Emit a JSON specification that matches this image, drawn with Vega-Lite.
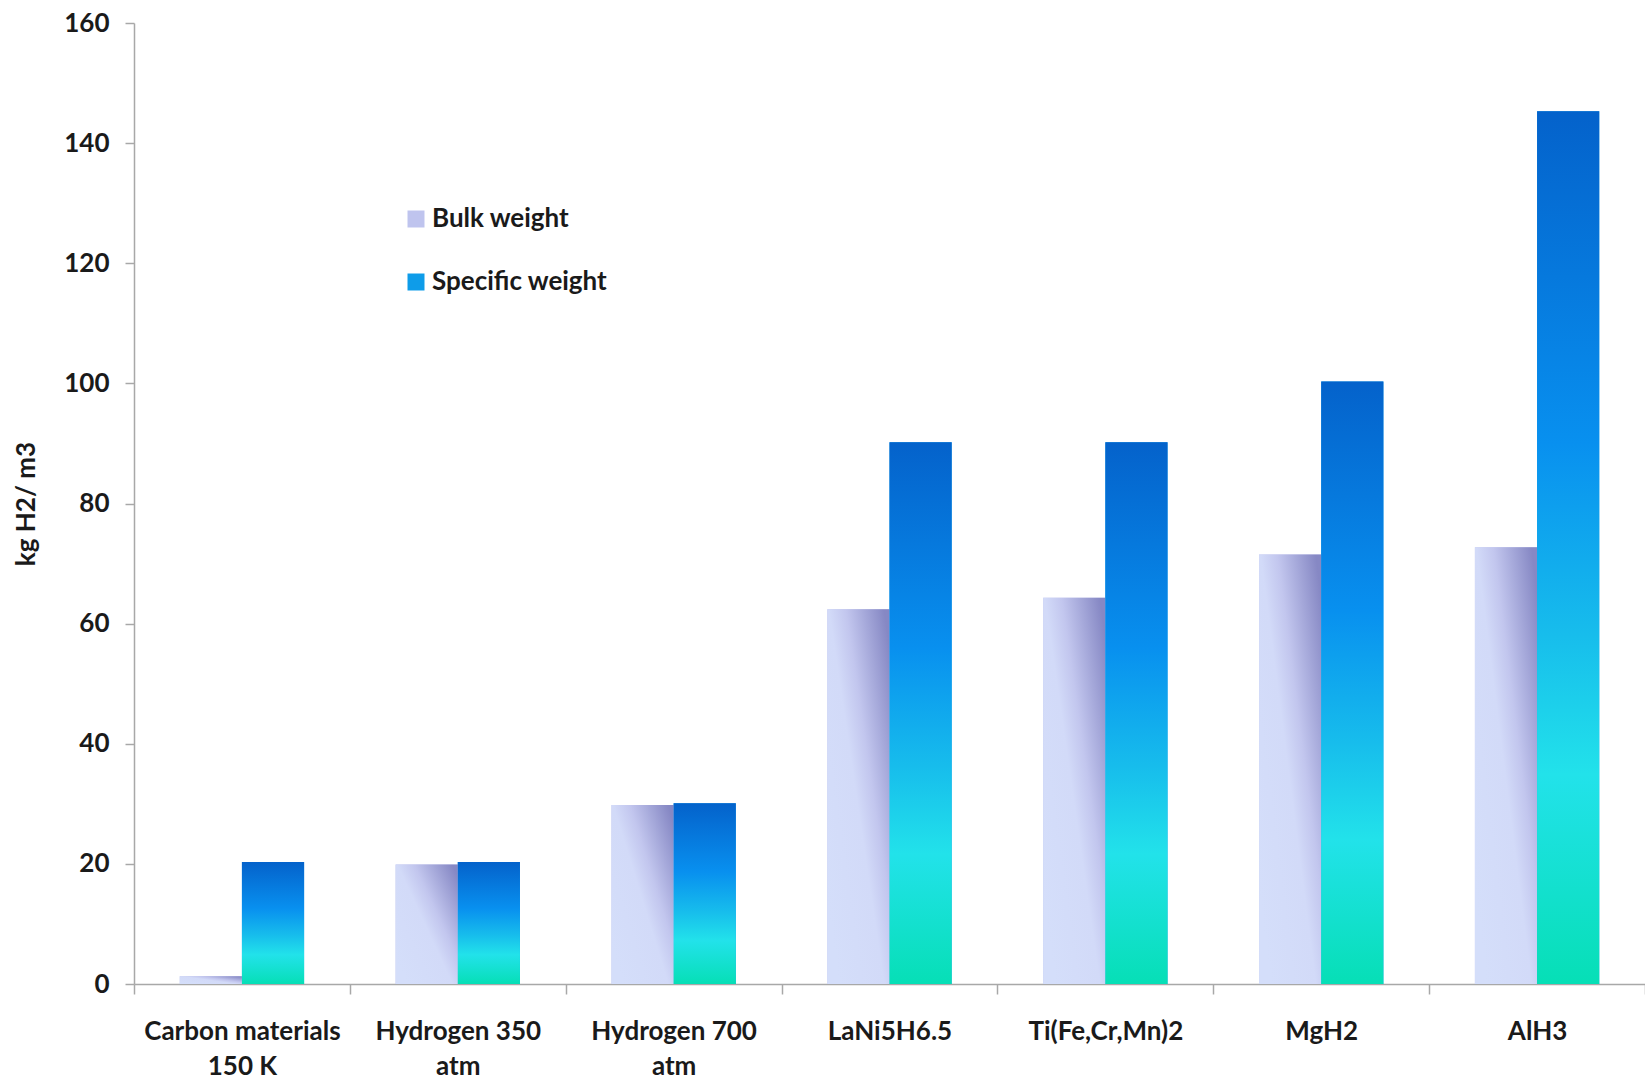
{
  "$schema": "https://vega.github.io/schema/vega-lite/v6.json",
  "width": 1511,
  "height": 961,
  "autosize": {"type": "none"},
  "padding": {"left": 134, "top": 23, "right": 0, "bottom": 97},
  "background": "white",
  "config": {
    "view": {"stroke": null},
    "font": "Lato",
    "axis": {"grid": false}
  },
  "data": {
    "values": [
      {"material": "Carbon materials 150 K", "series": "Bulk weight", "value": 1.3},
      {"material": "Carbon materials 150 K", "series": "Specific weight", "value": 20.3},
      {"material": "Hydrogen 350 atm", "series": "Bulk weight", "value": 19.9},
      {"material": "Hydrogen 350 atm", "series": "Specific weight", "value": 20.3},
      {"material": "Hydrogen 700 atm", "series": "Bulk weight", "value": 29.8},
      {"material": "Hydrogen 700 atm", "series": "Specific weight", "value": 30.1},
      {"material": "LaNi5H6.5", "series": "Bulk weight", "value": 62.4},
      {"material": "LaNi5H6.5", "series": "Specific weight", "value": 90.2},
      {"material": "Ti(Fe,Cr,Mn)2", "series": "Bulk weight", "value": 64.3},
      {"material": "Ti(Fe,Cr,Mn)2", "series": "Specific weight", "value": 90.2},
      {"material": "MgH2", "series": "Bulk weight", "value": 71.5},
      {"material": "MgH2", "series": "Specific weight", "value": 100.3},
      {"material": "AlH3", "series": "Bulk weight", "value": 72.7},
      {"material": "AlH3", "series": "Specific weight", "value": 145.3}
    ]
  },
  "encoding": {
    "x": {
      "field": "material",
      "type": "nominal",
      "sort": null,
      "scale": {"paddingInner": 0, "paddingOuter": 0},
      "axis": {
        "title": null,
        "labelAngle": 0,
        "labelLimit": 0,
        "tickBand": "extent",
        "tickSize": 10,
        "tickColor": "#a8a8a8",
        "domainColor": "#a8a8a8",
        "domainWidth": 1.5,
        "tickWidth": 1.5,
        "labelFont": "Lato",
        "labelFontWeight": "bold",
        "labelFontSize": 26,
        "labelColor": "#1a1a1a",
        "labelPadding": 24,
        "labelLineHeight": 35,
        "labelBaseline": "top",
        "labelExpr": "datum.label == 'Carbon materials 150 K' ? ['Carbon materials', '150 K'] : datum.label == 'Hydrogen 350 atm' ? ['Hydrogen 350', 'atm'] : datum.label == 'Hydrogen 700 atm' ? ['Hydrogen 700', 'atm'] : datum.label"
      }
    },
    "xOffset": {
      "field": "series",
      "type": "nominal",
      "scale": {"paddingInner": 0, "paddingOuter": 0.736}
    },
    "y": {
      "field": "value",
      "type": "quantitative",
      "scale": {"domain": [0, 160], "nice": false},
      "axis": {
        "title": "kg H2/ m3",
        "values": [0, 20, 40, 60, 80, 100, 120, 140, 160],
        "tickSize": 9,
        "tickColor": "#a8a8a8",
        "domainColor": "#a8a8a8",
        "domainWidth": 1.5,
        "tickWidth": 1.5,
        "labelFont": "Lato",
        "labelFontWeight": "bold",
        "labelFontSize": 26,
        "labelColor": "#1a1a1a",
        "labelPadding": 16,
        "titleFont": "Lato",
        "titleFontWeight": "bold",
        "titleFontSize": 26,
        "titleColor": "#1a1a1a",
        "titlePadding": 24
      }
    }
  },
  "layer": [
    {
      "mark": {"type": "bar", "strokeWidth": 0},
      "encoding": {
        "fill": {
          "field": "series",
          "type": "nominal",
          "scale": {"domain": ["Bulk weight", "Specific weight"], "range": ["#bfc4ee", "#0e9ce9"]},
          "legend": {
            "title": null,
            "orient": "none",
            "legendX": 269,
            "legendY": 183,
            "symbolType": "square",
            "symbolSize": 289,
            "symbolStrokeWidth": 0,
            "symbolOpacity": 1,
            "labelFont": "Lato",
            "labelFontWeight": "bold",
            "labelFontSize": 26,
            "labelColor": "#1a1a1a",
            "labelLimit": 0,
            "labelOffset": 3,
            "rowPadding": 37,
            "padding": 0
          }
        }
      }
    },
    {
      "mark": {"type": "bar", "strokeWidth": 0},
      "encoding": {
        "fill": {
          "condition": {
            "test": "datum.series === 'Bulk weight'",
            "value": {
              "gradient": "linear",
              "x1": 0.1, "y1": 0.9, "x2": 1, "y2": 0.1,
              "stops": [
                {"offset": 0, "color": "#d4defa"},
                {"offset": 0.45, "color": "#d2daf8"},
                {"offset": 0.62, "color": "#c2c6ee"},
                {"offset": 1, "color": "#8688c4"}
              ]
            }
          },
          "value": {
            "gradient": "linear",
            "x1": 0, "y1": 0, "x2": 0, "y2": 1,
            "stops": [
              {"offset": 0, "color": "#0462cb"},
              {"offset": 0.38, "color": "#0890ef"},
              {"offset": 0.6, "color": "#17bdec"},
              {"offset": 0.76, "color": "#22e2ea"},
              {"offset": 0.9, "color": "#12e0cc"},
              {"offset": 1, "color": "#06dfb6"}
            ]
          }
        }
      }
    }
  ]
}
